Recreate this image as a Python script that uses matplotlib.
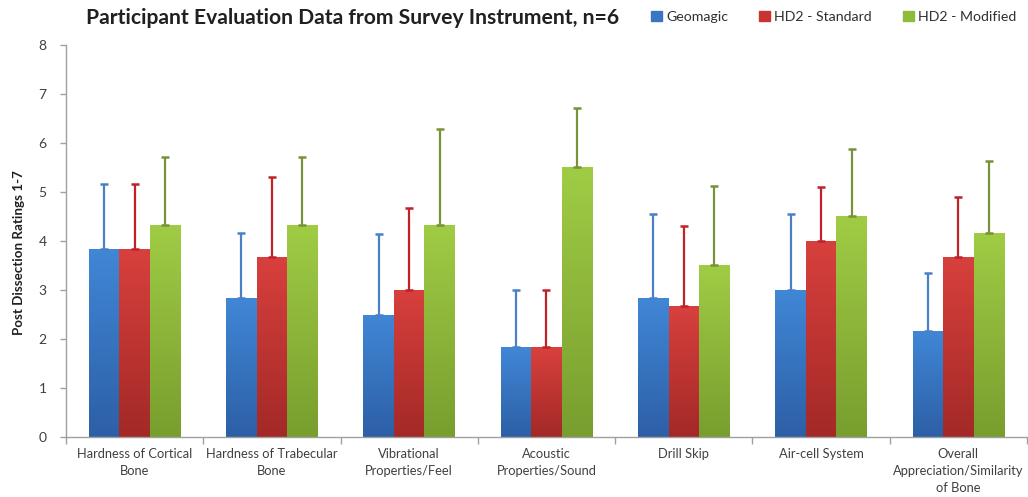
import numpy as np
import matplotlib
matplotlib.use("Agg")
import matplotlib.pyplot as plt
from matplotlib.colors import LinearSegmentedColormap

categories = [
    "Hardness of Cortical\nBone",
    "Hardness of Trabecular\nBone",
    "Vibrational\nProperties/Feel",
    "Acoustic\nProperties/Sound",
    "Drill Skip",
    "Air-cell System",
    "Overall\nAppreciation/Similarity\nof Bone",
]
series_names = ["Geomagic", "HD2 - Standard", "HD2 - Modified"]

geomagic = [3.83, 2.83, 2.50, 1.83, 2.83, 3.00, 2.17]
hd2_standard = [3.83, 3.67, 3.00, 1.83, 2.67, 4.00, 3.67]
hd2_modified = [4.33, 4.33, 4.33, 5.50, 3.50, 4.50, 4.17]

geomagic_sd = [1.33, 1.34, 1.65, 1.17, 1.73, 1.55, 1.17]
hd2_standard_sd = [1.33, 1.63, 1.68, 1.17, 1.63, 1.10, 1.22]
hd2_modified_sd = [1.39, 1.38, 1.96, 1.21, 1.63, 1.38, 1.46]

y_ticks = [0, 1, 2, 3, 4, 5, 6, 7, 8]

values = [geomagic, hd2_standard, hd2_modified]
errors = [geomagic_sd, hd2_standard_sd, hd2_modified_sd]

# (top colour, bottom colour, legend colour, error bar colour)
styles = [
    ("#4087d6", "#2d5fa6", "#3a75c4", "#4a80c8"),
    ("#d8403d", "#a32927", "#c8342f", "#c0222a"),
    ("#a0cc45", "#789e2e", "#8fbb3a", "#76923a"),
]

plt.rcParams["font.family"] = ["Lato", "DejaVu Sans"]

fig = plt.figure(figsize=(10.28, 4.97), dpi=100)
ax = fig.add_axes([0.0642, 0.1207, 0.9348, 0.7888])

n = len(categories)
x = np.arange(n)
width = 0.222
offsets = [-width, 0.0, width]

grad = np.linspace(0, 1, 256).reshape(-1, 1)
for vals, errs, off, (ctop, cbot, cleg, cerr), name in zip(
        values, errors, offsets, styles, series_names):
    cmap = LinearSegmentedColormap.from_list(name, [cbot, ctop])
    bars = ax.bar(x + off, vals, width, color=cleg, edgecolor="none",
                  label=name, zorder=2)
    for b in bars:
        x0, y0 = b.get_x(), b.get_y()
        w, h = b.get_width(), b.get_height()
        im = ax.imshow(grad, cmap=cmap, aspect="auto", origin="lower",
                       extent=[x0, x0 + w, y0, y0 + h], zorder=2.1,
                       interpolation="bilinear")
        im.set_clip_path(b)
    ax.errorbar(x + off, vals, yerr=[np.zeros(n), errs], fmt="none",
                ecolor=cerr, elinewidth=1.6, capsize=3.2, capthick=1.8,
                zorder=3)

ax.set_xlim(-0.5, n - 0.5)
ax.set_ylim(0, 8)
ax.set_yticks(y_ticks)
ax.set_yticklabels([str(t) for t in y_ticks])

ax.set_xticks(x)
ax.set_xticklabels(categories, fontsize=9.3, color="#404040", linespacing=1.5)
ax.set_xticks(np.arange(n + 1) - 0.5, minor=True)
ax.tick_params(axis="x", which="major", length=0, pad=8)
ax.tick_params(axis="x", which="minor", length=5, color="#a0a0a0", width=1)
ax.tick_params(axis="y", length=4, color="#a0a0a0", width=1,
               labelsize=10, labelcolor="#404040", pad=10)

for side in ("top", "right"):
    ax.spines[side].set_visible(False)
for side in ("left", "bottom"):
    ax.spines[side].set_color("#a0a0a0")
    ax.spines[side].set_linewidth(1.0)

ax.set_ylabel("Post Dissection Ratings 1-7", fontsize=9.6,
              fontweight="bold", color="#202020")
ax.yaxis.set_label_coords(-0.043, 0.47)

fig.text(0.343, 0.964, "Participant Evaluation Data from Survey Instrument, n=6",
         ha="center", va="center", fontsize=15.2, fontweight="bold",
         color="#202020")

handles = [plt.Rectangle((0, 0), 1, 1, color=s[2]) for s in styles]
fig.legend(handles, series_names, loc="center", bbox_to_anchor=(0.811, 0.966),
           ncol=3, frameon=False, fontsize=10.2, handlelength=0.75,
           handleheight=0.75, handletextpad=0.3, columnspacing=2.2,
           labelcolor="#303030")

fig.savefig("out.png", dpi=100, facecolor="white")
